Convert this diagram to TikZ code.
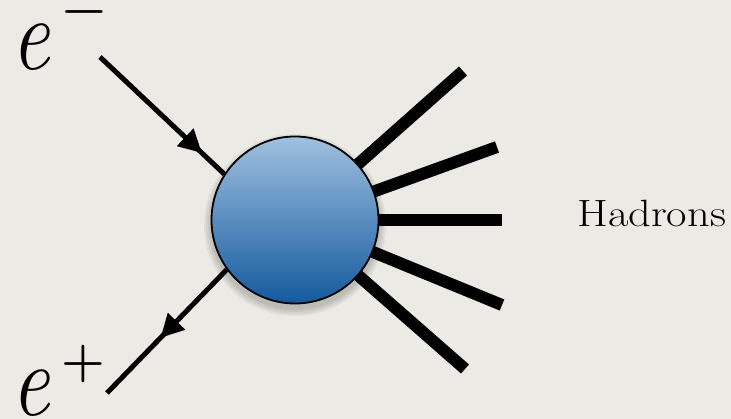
\documentclass[tikz,border=0pt]{standalone}
\usetikzlibrary{arrows.meta,decorations.markings}
\definecolor{bgpaper}{RGB}{236,234,228}
\definecolor{blobtop}{RGB}{160,192,223}
\definecolor{blobbot}{RGB}{20,90,158}
\begin{document}
\begin{tikzpicture}[x=1pt,y=-1pt,
  fermion/.style={line width=5pt,
    decoration={markings, mark=at position #1 with {\arrow{Triangle[length=23pt,width=23pt]}}},
    postaction={decorate}},
  jet/.style={line width=12pt, line cap=butt},
  blob/.style={circle, draw=black, line width=1.8pt, minimum size=167pt, inner sep=0pt,
    top color=blobtop, bottom color=blobbot},
  lbl/.style={inner sep=0pt, anchor=base west, font=\fontsize{104}{104}\selectfont\itshape},
  sgn/.style={inner sep=0pt, anchor=base, font=\fontsize{50}{50}\selectfont\bfseries},
  hlbl/.style={inner sep=0pt, anchor=base west, font=\fontsize{38}{38}\selectfont},
  shade/.style={fill=black, opacity=0.05}
]
\fill[bgpaper] (0,0) rectangle (731,419);
\useasboundingbox (0,0) rectangle (731,419);
\coordinate (o) at (295,220);
% jets
\coordinate (j1) at (463,71);
\coordinate (j2) at (497,147);
\coordinate (j3) at (502,220);
\coordinate (j4) at (502,305);
\coordinate (j5) at (465,369);
\foreach \j in {j1,j2,j3,j4,j5} \draw[jet] (o) -- (\j);
% soft shadow
\foreach \r in {85,87,89,91} \fill[shade] ([yshift=-5pt]o) circle (\r);
% blob
\node[blob] (c) at (o) {};
% fermion lines
\coordinate (a) at (100,57);
\coordinate (b) at (107,393);
\draw[fermion=140pt] (a) -- (c.147);
\draw[fermion=95pt] (c.216) -- (b);
% labels
\node[lbl] (em) at (11,70) {\scalebox{0.82}[1]{e}};
\node[sgn] (ems) at (84,25) {−};
\node[lbl] (ep) at (11,416) {\scalebox{0.82}[1]{e}};
\node[sgn] (eps) at (83,376.5) {+};
\node[hlbl] (h) at (577,227) {\scalebox{1.17}[1]{Hadrons}};
\end{tikzpicture}
\end{document}
